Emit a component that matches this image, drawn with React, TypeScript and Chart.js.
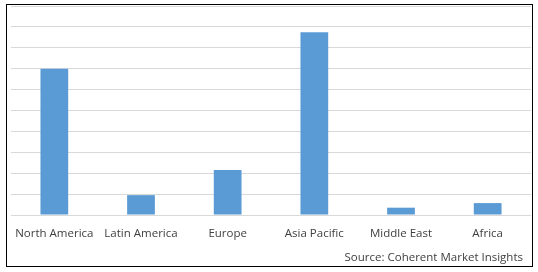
import React, { useEffect, useRef } from "react";
import { Chart, registerables } from "chart.js";

Chart.register(...registerables);

const categories = ["North America", "Latin America", "Europe", "Asia Pacific", "Middle East", "Africa"];
const values = [7.0, 0.95, 2.15, 8.75, 0.35, 0.57];
const sourceText = "Source: Coherent Market Insights";

const FONT = "'Open Sans', sans-serif";

const sourcePlugin = {
  id: "sourceText",
  afterDraw(chart: any) {
    const ctx = chart.ctx;
    ctx.save();
    ctx.font = `11.5px ${FONT}`;
    ctx.fillStyle = "#404040";
    ctx.textAlign = "right";
    ctx.textBaseline = "middle";
    ctx.fillText(sourceText, 523, 258);
    ctx.restore();
  },
};

export default function App() {
  const ref = useRef<HTMLCanvasElement | null>(null);
  useEffect(() => {
    document.body.style.margin = "0";
    const chart = new Chart(ref.current!, {
      type: "bar",
      data: {
        labels: categories,
        datasets: [
          {
            data: values,
            backgroundColor: "#5b9bd5",
            barPercentage: 0.32,
            categoryPercentage: 1,
          },
        ],
      },
      options: {
        animation: false,
        responsive: false,
        layout: { padding: { left: 11, right: 7, top: 6, bottom: 0 } },
        plugins: { legend: { display: false }, tooltip: { enabled: false } },
        scales: {
          x: {
            grid: { display: false },
            border: { display: false },
            ticks: { color: "#404040", font: { family: FONT, size: 11.5 }, padding: 4, maxRotation: 0, autoSkip: false },
            afterFit: (s: any) => { s.height = 57; },
          },
          y: {
            min: 0,
            max: 10,
            ticks: { display: false, stepSize: 1 },
            grid: { color: "#d9d9d9", drawTicks: false },
            border: { display: false },
            afterFit: (s: any) => { s.width = 0; },
          },
        },
      },
      plugins: [sourcePlugin],
    });
    return () => chart.destroy();
  }, []);
  return (
    <div style={{ position: "relative", width: 538, height: 272 }}>
      <canvas ref={ref} width={538} height={272} style={{ display: "block" }} />
      <div
        style={{
          position: "absolute",
          left: 6,
          top: 4,
          width: 525,
          height: 261,
          border: "1px solid #000",
          pointerEvents: "none",
        }}
      />
    </div>
  );
}
